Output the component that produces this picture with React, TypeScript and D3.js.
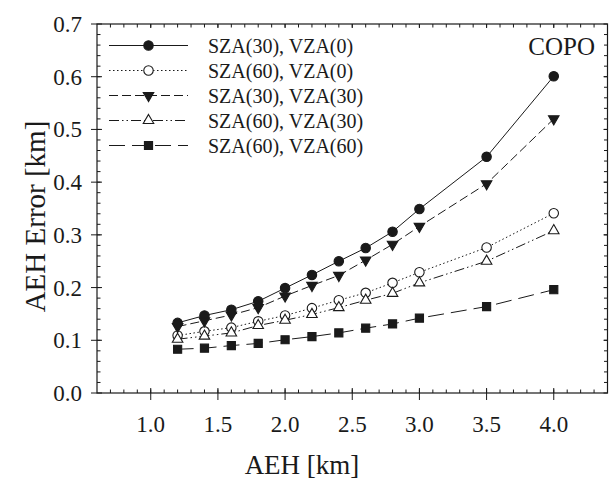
import React from "react";
import * as d3 from "d3";

const xValues = [1.2, 1.4, 1.6, 1.8, 2.0, 2.2, 2.4, 2.6, 2.8, 3.0, 3.5, 4.0];
const s30v0 = [0.133, 0.147, 0.158, 0.174, 0.199, 0.224, 0.250, 0.275, 0.306, 0.349, 0.448, 0.601];
const s60v0 = [0.109, 0.117, 0.124, 0.136, 0.147, 0.161, 0.176, 0.190, 0.209, 0.229, 0.276, 0.341];
const s30v30 = [0.126, 0.137, 0.148, 0.162, 0.184, 0.204, 0.223, 0.252, 0.282, 0.316, 0.397, 0.520];
const s60v30 = [0.102, 0.108, 0.114, 0.128, 0.138, 0.149, 0.162, 0.176, 0.189, 0.209, 0.250, 0.308];
const s60v60 = [0.083, 0.085, 0.090, 0.094, 0.101, 0.107, 0.114, 0.123, 0.131, 0.142, 0.164, 0.196];

const seriesNames = ["SZA(30), VZA(0)", "SZA(60), VZA(0)", "SZA(30), VZA(30)", "SZA(60), VZA(30)", "SZA(60), VZA(60)"];
const xTicks = [1.0, 1.5, 2.0, 2.5, 3.0, 3.5, 4.0];
const yTicks = [0.0, 0.1, 0.2, 0.3, 0.4, 0.5, 0.6, 0.7];

const FONT = "'Liberation Serif', 'Times New Roman', serif";
const INK = "#1a1a1a";

type Style = { dash: string; marker: "circle" | "triangleDown" | "triangleUp" | "square"; filled: boolean };
const styles: Style[] = [
  { dash: "", marker: "circle", filled: true },
  { dash: "1.5,2.5", marker: "circle", filled: false },
  { dash: "9,4", marker: "triangleDown", filled: true },
  { dash: "10,3,1.5,3,1.5,3", marker: "triangleUp", filled: false },
  { dash: "16,7", marker: "square", filled: true },
];

function Marker({ x, y, st }: { x: number; y: number; st: Style }) {
  const fill = st.filled ? INK : "#fff";
  let path = "";
  let rot = 0;
  if (st.marker === "circle") path = d3.symbol(d3.symbolCircle, 70)()!;
  else if (st.marker === "square") path = d3.symbol(d3.symbolSquare, 66)()!;
  else {
    path = d3.symbol(d3.symbolTriangle, 48)()!;
    if (st.marker === "triangleDown") rot = 180;
  }
  return (
    <path
      d={path}
      transform={`translate(${x},${y}) rotate(${rot})`}
      fill={fill}
      stroke={INK}
      strokeWidth={1.1}
    />
  );
}

export default function App() {
  const W = 609, H = 479;
  const L = 97, R = 607.5, T = 24, B = 393;
  const x = d3.scaleLinear().domain([0.6, 4.4]).range([L, R]);
  const y = d3.scaleLinear().domain([0, 0.7]).range([B, T]);
  const data = [s30v0, s60v0, s30v30, s60v30, s60v60];
  const line = d3
    .line<[number, number]>()
    .x((d) => x(d[0]))
    .y((d) => y(d[1]));

  const xMinor = d3.range(7, 44).map((v) => v / 10).filter((v) => v > 0.6 && v < 4.4);
  const yMinor = d3.range(0, 36).map((v) => v * 0.02).filter((v) => v > 0 && v < 0.7);

  return (
    <svg width={W} height={H} style={{ position: "absolute", left: 0, top: 0, background: "#fff" }}>
      <rect x={0} y={0} width={W} height={H} fill="#fff" />
      {xMinor.map((v, i) => (
        <g key={"xm" + i} stroke={INK} strokeWidth={1}>
          <line x1={x(v)} x2={x(v)} y1={B} y2={B - 3.5} />
          <line x1={x(v)} x2={x(v)} y1={T} y2={T + 3.5} />
        </g>
      ))}
      {yMinor.map((v, i) => (
        <g key={"ym" + i} stroke={INK} strokeWidth={1}>
          <line x1={L} x2={L + 3.5} y1={y(v)} y2={y(v)} />
          <line x1={R} x2={R - 3.5} y1={y(v)} y2={y(v)} />
        </g>
      ))}
      {xTicks.map((v, i) => (
        <g key={"xt" + i}>
          <line x1={x(v)} x2={x(v)} y1={B + 7} y2={B - 5} stroke={INK} strokeWidth={1} />
          <line x1={x(v)} x2={x(v)} y1={T} y2={T + 4} stroke={INK} strokeWidth={1} />
          <text x={x(v)} y={432} textAnchor="middle" fontFamily={FONT} fontSize={23} fill={INK}>
            {d3.format(".1f")(v)}
          </text>
        </g>
      ))}
      {yTicks.map((v, i) => (
        <g key={"yt" + i}>
          <line x1={L - 6} x2={L + 5} y1={y(v)} y2={y(v)} stroke={INK} strokeWidth={1} />
          <line x1={R} x2={R - 4} y1={y(v)} y2={y(v)} stroke={INK} strokeWidth={1} />
          <text x={82} y={y(v)} dy="0.35em" textAnchor="end" fontFamily={FONT} fontSize={23} fill={INK}>
            {d3.format(".1f")(v)}
          </text>
        </g>
      ))}
      <rect x={L} y={T} width={R - L} height={B - T} fill="none" stroke={INK} strokeWidth={1.2} />

      {data.map((vals, si) => (
        <path
          key={"l" + si}
          d={line(xValues.map((xv, i) => [xv, vals[i]] as [number, number]))!}
          fill="none"
          stroke={INK}
          strokeWidth={1}
          strokeDasharray={styles[si].dash || undefined}
        />
      ))}
      {data.map((vals, si) =>
        xValues.map((xv, i) => <Marker key={`m${si}-${i}`} x={x(xv)} y={y(vals[i])} st={styles[si]} />)
      )}

      {seriesNames.map((name, i) => {
        const ly = 45.5 + i * 25;
        return (
          <g key={"lg" + i}>
            <line x1={109} x2={188} y1={ly} y2={ly} stroke={INK} strokeWidth={1} strokeDasharray={styles[i].dash || undefined} />
            <Marker x={148.5} y={ly} st={styles[i]} />
            <text x={208} y={ly} dy="0.35em" fontFamily={FONT} fontSize={20} fill={INK}>
              {name}
            </text>
          </g>
        );
      })}

      <text x={595} y={55} textAnchor="end" fontFamily={FONT} fontSize={25} fill={INK}>
        COPO
      </text>

      <text x={302} y={474} textAnchor="middle" fontFamily={FONT} fontSize={27} fill={INK}>
        AEH [km]
      </text>
      <text
        transform={`translate(45,${(T + B) / 2 + 8}) rotate(-90)`}
        textAnchor="middle"
        fontFamily={FONT}
        fontSize={29}
        fill={INK}
      >
        AEH Error [km]
      </text>
    </svg>
  );
}
